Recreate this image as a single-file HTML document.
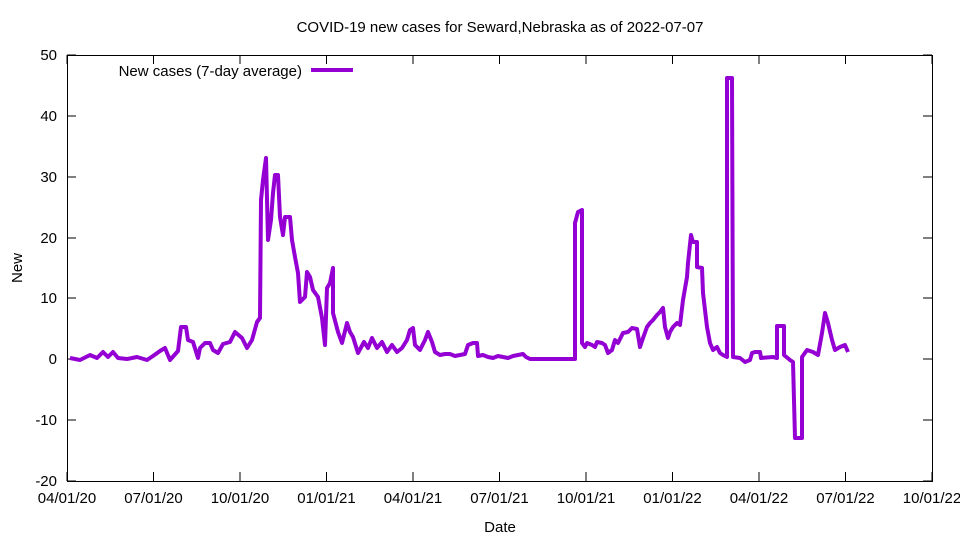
<!DOCTYPE html>
<html><head><meta charset="utf-8"><style>
html,body{margin:0;padding:0;background:#fff;}
svg{display:block;font-family:"Liberation Sans",sans-serif;}
</style></head><body>
<svg width="960" height="540" viewBox="0 0 960 540" xmlns="http://www.w3.org/2000/svg">
<rect width="960" height="540" fill="#fff"/>
<text x="500" y="32" font-size="15" text-anchor="middle">COVID-19 new cases for Seward,Nebraska as of 2022-07-07</text>
<g stroke="#000" stroke-width="1" fill="none">
<rect x="67.5" y="55.5" width="865" height="426"/>
<path d="M67 481h9M932 481h-9M67 420h9M932 420h-9M67 359h9M932 359h-9M67 298h9M932 298h-9M67 238h9M932 238h-9M67 177h9M932 177h-9M67 116h9M932 116h-9M67 55h9M932 55h-9"/>
<path d="M67 481v-9M67 55v9M153.5 481v-9M153.5 55v9M240 481v-9M240 55v9M326.5 481v-9M326.5 55v9M413 481v-9M413 55v9M499.5 481v-9M499.5 55v9M586 481v-9M586 55v9M672.5 481v-9M672.5 55v9M759 481v-9M759 55v9M845.5 481v-9M845.5 55v9M932 481v-9M932 55v9"/>
</g>
<g font-size="15" text-anchor="end">
<text x="57" y="486">-20</text><text x="57" y="425">-10</text><text x="57" y="364">0</text><text x="57" y="303">10</text><text x="57" y="243">20</text><text x="57" y="182">30</text><text x="57" y="121">40</text><text x="57" y="60">50</text>
</g>
<g font-size="15" text-anchor="middle">
<text x="67" y="503">04/01/20</text><text x="153.5" y="503">07/01/20</text><text x="240" y="503">10/01/20</text><text x="326.5" y="503">01/01/21</text><text x="413" y="503">04/01/21</text><text x="499.5" y="503">07/01/21</text><text x="586" y="503">10/01/21</text><text x="672.5" y="503">01/01/22</text><text x="759" y="503">04/01/22</text><text x="845.5" y="503">07/01/22</text><text x="932" y="503">10/01/22</text>
<text x="500" y="532">Date</text>
<text x="22" y="268" transform="rotate(-90 22 268)">New</text>
</g>
<text x="302" y="76" font-size="15" text-anchor="end">New cases (7-day average)</text>
<path d="M311 70h42" stroke="#9400d3" stroke-width="4"/>
<polyline fill="none" stroke="#9400d3" stroke-width="4" stroke-linejoin="round" points="70,358 80,360 90,355 97,358 103,352 108,357 113,352 118,358 127,359 137,357 147,360 153,356 160,351 165,348 170,360 178,351 181,327 186,327 188,340 193,342 198,358 200,348 205,343 210,343 213,350 218,353 223,344 230,342 235,332 242,338 247,348 252,340 257,322 260,318 261,200 263,180 266,158 268,240 271,220 273,193 275,175 278,175 280,217 283,235 285,217 290,217 292,240 295,257 298,273 300,302 305,297 307,272 310,277 313,290 318,297 322,318 325,345 327,288 330,283 333,268 333,313 338,332 342,343 347,323 350,332 353,337 358,353 364,342 368,348 372,338 377,348 382,342 387,352 392,345 397,352 402,348 407,340 410,330 413,328 415,345 420,350 425,340 428,332 432,342 435,352 440,355 445,354 450,354 455,356 460,355 465,354 468,345 473,343 477,343 478,356 483,355 488,357 493,358 498,356 503,357 508,358 513,356 518,355 523,354 526,357 530,359 575,359 575,223 578,212 582,210 582,343 585,347 587,343 592,345 595,347 597,342 602,343 605,345 608,353 612,350 615,340 618,343 623,333 628,332 632,328 637,329 640,347 643,338 647,327 650,323 653,320 657,315 660,312 663,308 665,327 668,338 670,332 673,327 677,323 680,325 683,300 687,277 688,263 691,235 693,242 697,242 697,267 702,268 703,293 707,327 710,343 713,350 717,347 720,353 723,355 727,357 727,78 732,78 733,357 740,358 745,362 750,360 752,353 755,352 760,352 761,358 773,357 777,358 777,326 784,326 784,355 790,360 793,362 795,438 802,438 802,357 807,350 813,352 818,355 822,333 825,313 828,323 832,340 835,350 840,347 845,345 848,352"/>
</svg>
</body></html>
